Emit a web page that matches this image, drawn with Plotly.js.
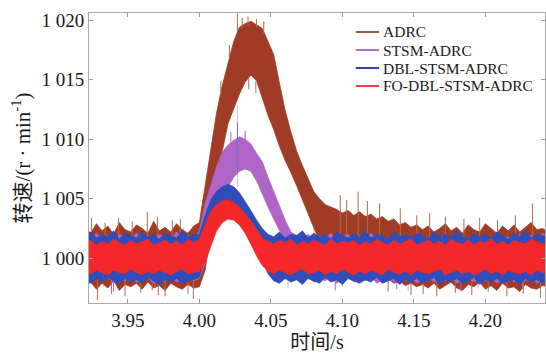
<!DOCTYPE html>
<html>
<head>
<meta charset="utf-8">
<script src="https://cdn.plot.ly/plotly-3.0.1.min.js"></script>
<style>html,body{margin:0;padding:0;background:#fff;}#chart{width:546px;height:355px;}</style>
</head>
<body>
<div id="chart"></div>
<script>
// time grid (s)
const t = [3.920,3.924,3.928,3.932,3.936,3.940,3.944,3.948,3.952,3.956,3.960,3.964,3.968,3.972,3.976,3.980,3.984,3.988,3.992,3.996,
4.000,4.004,4.008,4.012,4.016,4.020,4.024,4.028,4.032,4.036,4.040,4.044,4.048,4.052,4.056,4.060,4.064,4.068,4.072,4.076,
4.080,4.084,4.088,4.092,4.096,4.100,4.104,4.108,4.112,4.116,4.120,4.124,4.128,4.132,4.136,4.140,4.144,4.148,4.152,4.156,
4.160,4.164,4.168,4.172,4.176,4.180,4.184,4.188,4.192,4.196,4.200,4.204,4.208,4.212,4.216,4.220,4.224,4.228,4.232,4.236,4.240,4.244];

// ADRC envelope (upper / lower), r/min
const adrcUpper = [1002.6,1002.1,1002.9,1002.3,1002.7,1002.0,1003.0,1002.4,1002.2,1002.8,1002.5,1002.1,1003.1,1002.3,1002.6,1002.2,1002.9,1002.4,1002.1,1002.7,
1003.0,1006.0,1009.3,1012.2,1014.5,1016.4,1018.2,1019.4,1019.7,1019.9,1019.6,1019.3,1018.2,1017.1,1014.7,1012.4,1010.6,1009.0,1007.8,1006.7,
1005.6,1005.0,1004.5,1004.3,1004.1,1003.8,1004.0,1003.6,1003.9,1003.5,1003.7,1003.3,1003.5,1003.1,1003.3,1002.8,1003.0,1002.6,1002.8,1002.4,
1002.7,1002.2,1002.5,1002.9,1002.3,1002.6,1002.1,1002.8,1002.4,1002.2,1002.9,1002.5,1002.1,1002.7,1002.3,1002.8,1002.2,1002.6,1003.0,1002.4,1002.5,1002.2];
const adrcLower = [997.6,998.0,997.4,997.9,997.5,998.1,997.3,997.8,997.6,997.9,997.4,998.0,997.5,997.7,997.3,997.9,997.6,997.4,997.8,997.5,
997.6,999.0,1002.0,1005.5,1009.0,1011.3,1012.6,1013.8,1014.8,1015.4,1014.9,1013.4,1012.0,1010.8,1009.4,1008.2,1007.2,1006.1,1005.0,1003.7,
1002.6,1001.4,1000.3,999.6,999.1,998.9,998.6,998.8,998.4,998.6,998.2,998.4,998.0,998.3,997.9,998.1,997.7,997.9,997.6,997.8,
997.5,997.9,997.4,997.7,998.0,997.5,997.3,997.8,997.6,998.0,997.4,997.7,997.3,997.9,997.5,997.6,997.2,997.8,997.5,997.4,997.7,997.6];

// STSM-ADRC envelope
const stsmUpper = [1001.9,1001.6,1002.1,1001.7,1001.9,1001.5,1002.0,1001.8,1001.6,1002.1,1001.7,1001.9,1001.5,1002.0,1001.8,1001.6,1002.2,1001.7,1001.9,1001.6,
1002.3,1004.6,1006.1,1007.7,1008.9,1009.5,1009.9,1010.2,1010.0,1009.6,1008.8,1008.1,1006.8,1005.6,1004.3,1003.2,1002.2,1001.9,1001.7,1002.0,
1001.6,1001.9,1001.7,1002.1,1001.6,1001.8,1002.0,1001.5,1001.9,1001.7,1002.1,1001.6,1001.8,1001.5,1002.0,1001.7,1001.9,1001.6,1002.1,1001.8,
1001.6,1002.0,1001.7,1001.9,1001.5,1002.1,1001.8,1001.6,1002.0,1001.7,1001.9,1001.6,1002.2,1001.7,1001.8,1001.5,1002.0,1001.7,1001.9,1001.6,1002.1,1001.8];
const stsmLower = [998.3,998.0,998.5,998.1,998.4,997.9,998.3,998.1,998.5,998.0,998.2,998.4,997.9,998.3,998.1,998.5,998.0,998.2,998.4,998.1,
998.3,999.6,1001.5,1003.3,1004.9,1006.0,1006.8,1007.3,1007.5,1007.3,1006.5,1005.4,1004.3,1003.3,1002.3,1001.4,1000.0,998.8,998.2,998.4,
998.0,998.3,998.1,998.5,997.9,998.2,998.4,998.0,998.3,998.1,998.5,997.9,998.2,998.4,998.0,998.3,998.1,998.4,997.9,998.2,
998.4,998.0,998.3,998.1,998.5,997.9,998.2,998.4,998.0,998.3,998.1,998.4,997.9,998.2,998.5,998.0,998.3,998.1,998.4,997.9,998.2,998.3];

// DBL-STSM-ADRC envelope
const dblUpper = [1001.9,1002.2,1001.7,1002.0,1001.8,1002.3,1001.6,1002.1,1001.9,1001.7,1002.2,1001.8,1002.0,1001.6,1002.1,1001.9,1001.7,1002.3,1001.8,1002.0,
1002.0,1003.6,1004.9,1005.6,1006.0,1006.2,1006.0,1005.5,1004.8,1004.0,1003.2,1002.5,1002.0,1001.8,1002.2,1001.7,1002.0,1001.9,1002.3,1001.7,
1002.1,1001.8,1002.0,1001.6,1002.2,1001.9,1001.7,1002.1,1001.8,1002.3,1001.7,1002.0,1001.9,1001.6,1002.2,1001.8,1002.0,1001.7,1002.1,1001.9,
1001.6,1002.2,1001.8,1002.0,1001.7,1002.3,1001.9,1001.6,1002.1,1001.8,1002.0,1001.7,1002.2,1001.9,1001.6,1002.1,1001.8,1002.3,1001.7,1002.0,1001.9,1001.8];
const dblLower = [998.2,997.9,998.3,998.0,998.4,998.1,997.8,998.3,998.0,998.2,997.9,998.4,998.1,997.8,998.2,998.0,998.3,997.9,998.1,998.2,
998.4,1000.0,1001.5,1002.8,1003.5,1003.8,1003.7,1003.3,1002.6,1001.7,1000.7,999.8,998.7,998.1,997.9,998.3,998.0,998.2,997.8,998.3,
998.1,997.9,998.4,998.0,998.2,997.8,998.3,998.1,997.9,998.2,998.0,998.4,997.9,998.1,998.3,997.8,998.2,998.0,998.3,997.9,
998.1,998.4,997.8,998.2,998.0,998.3,997.9,998.1,998.4,997.8,998.2,998.0,998.3,997.9,998.1,998.2,997.8,998.3,998.0,998.2,997.9,998.1];

// FO-DBL-STSM-ADRC envelope
const foUpper = [1001.3,1001.5,1001.1,1001.4,1001.2,1001.6,1001.3,1001.1,1001.5,1001.2,1001.4,1001.6,1001.1,1001.3,1001.5,1001.2,1001.4,1001.1,1001.6,1001.3,
1001.6,1002.8,1003.9,1004.5,1004.8,1004.9,1004.7,1004.3,1003.7,1003.1,1002.4,1001.7,1001.4,1001.2,1001.5,1001.3,1001.6,1001.1,1001.4,1001.2,
1001.5,1001.3,1001.1,1001.6,1001.2,1001.4,1001.3,1001.5,1001.1,1001.4,1001.2,1001.6,1001.3,1001.1,1001.5,1001.2,1001.4,1001.6,1001.1,1001.3,
1001.5,1001.2,1001.4,1001.1,1001.6,1001.3,1001.2,1001.5,1001.1,1001.4,1001.3,1001.6,1001.2,1001.4,1001.1,1001.5,1001.3,1001.2,1001.6,1001.4,1001.2,1001.3];
const foLower = [998.9,998.7,999.0,998.8,998.6,999.0,998.8,998.7,999.1,998.8,998.6,998.9,998.7,999.0,998.8,998.6,998.9,999.1,998.7,998.8,
998.9,999.7,1001.0,1002.3,1003.0,1003.3,1003.2,1002.8,1002.1,1001.2,1000.2,999.4,998.9,998.7,999.0,998.8,998.6,998.9,999.1,998.7,
998.8,999.0,998.6,998.9,998.7,999.1,998.8,998.6,998.9,998.7,999.0,998.8,998.6,999.1,998.8,998.7,998.9,998.6,999.0,998.8,
998.7,998.9,999.1,998.6,998.8,999.0,998.7,998.9,998.6,998.8,999.1,998.7,998.9,998.6,999.0,998.8,998.7,998.9,998.6,999.0,998.8,998.7];

// isolated noise spikes: time (s), start and end value (r/min)
const adrcSpikeT = [3.9245,3.9287,3.9340,3.9385,3.9434,3.9480,3.9530,3.9590,3.9636,3.9670,3.9706,3.9712,3.9760,3.9810,3.9867,3.9920,3.9958,
4.0150,4.0210,4.0266,4.0300,4.0340,4.0400,4.0450,4.0345,4.0395,
4.0985,4.1030,4.1110,4.1175,4.1260,4.1320,4.1405,4.1480,4.1520,4.1565,4.1610,4.1660,4.1720,4.1790,4.1850,4.1905,4.1960,4.2020,4.2085,4.2150,4.2210,4.2265,4.2330,4.2385];
const adrcSpikeFrom = [1000,1000,1000,1000,1000,1000,1000,1000,1000,1000,1000,1000,1000,1000,1000,1000,1000,
1013.8,1016.8,1019.0,1019.3,1019.5,1019.4,1018.9,1015.2,1014.9,
1000,1000,1000,1000,1000,1000,1000,1000,1000,1000,1000,1000,1000,1000,1000,1000,1000,1000,1000,1000,1000,1000,1000,1000];
const adrcSpikeTo = [1003.4,996.5,1003.0,997.0,1003.4,996.8,1003.1,997.1,1003.9,997.3,1003.5,996.9,996.8,1003.2,1003.3,997.0,996.6,
1014.9,1017.9,1020.6,1020.2,1020.3,1020.1,1019.9,1014.2,1013.9,
1005.3,1004.9,1005.6,1004.8,1004.6,997.2,1004.2,996.9,1003.6,997.0,1003.8,996.8,1003.5,997.1,1003.3,996.9,1003.4,997.2,1003.2,996.8,1003.6,997.0,1004.6,996.7];
const stsmSpikeT = [3.9400,3.9690,4.0220,4.0266,4.0320,4.0950,4.1380,4.1830,4.2260];
const stsmSpikeFrom = [1000,1000,1009.6,1009.9,1009.8,1000,1000,1000,1000];
const stsmSpikeTo = [997.2,997.5,1010.6,1011.4,1010.7,997.3,997.4,997.2,997.5];
const dblSpikeT = [3.9330,3.9580,3.9750,3.9890,4.0266,4.0620,4.0800,4.1000,4.1230,4.1460,4.1700,4.1950,4.2180,4.2360];
const dblSpikeFrom = [1000,1000,1000,1000,1006.0,1000,1000,1000,1000,1000,1000,1000,1000,1000];
const dblSpikeTo = [997.6,1002.7,997.4,1002.6,1012.9,997.5,1002.8,997.6,1002.5,997.3,1002.7,997.5,1002.6,997.4];

// tick labels
const yTickVals = [1000,1005,1010,1015,1020];
const yTickText = ['1 000','1 005','1 010','1 015','1 020'];
const xTickVals = [3.95,4.00,4.05,4.10,4.15,4.20];
const xTickText = ['3.95','4.00','4.05','4.10','4.15','4.20'];

const names = ['ADRC','STSM-ADRC','DBL-STSM-ADRC','FO-DBL-STSM-ADRC'];
const colors = ['#a03c26','#b064c6','#2f4cb8','#f42828'];
const legendColors = ['#b3543c','#a873cc','#3346b0','#f04040'];

function band(upper, lower, color, name) {
  const x = t.concat(t.slice().reverse());
  const y = upper.concat(lower.slice().reverse());
  return {x: x, y: y, type: 'scatter', mode: 'lines', fill: 'toself', fillcolor: color, name: name,
          line: {color: color, width: 0.8}, showlegend: false, hoverinfo: 'skip'};
}
function spikes(ts, from, to, color, w) {
  const x = [], y = [];
  for (let i = 0; i < ts.length; i++) { x.push(ts[i], ts[i], null); y.push(from[i], to[i], null); }
  return {x: x, y: y, type: 'scatter', mode: 'lines', line: {color: color, width: w},
          showlegend: false, hoverinfo: 'skip'};
}

const traces = [
  band(adrcUpper, adrcLower, colors[0], names[0]),
  spikes(adrcSpikeT, adrcSpikeFrom, adrcSpikeTo, '#b8694a', 1),
  band(stsmUpper, stsmLower, colors[1], names[1]),
  spikes(stsmSpikeT, stsmSpikeFrom, stsmSpikeTo, colors[1], 1),
  band(dblUpper, dblLower, colors[2], names[2]),
  spikes(dblSpikeT, dblSpikeFrom, dblSpikeTo, 'rgba(70,100,200,0.55)', 0.7),
  band(foUpper, foLower, colors[3], names[3])
];

// legend drawn as line shapes + text annotations (paper coordinates)
const legX0 = 0.585, legX1 = 0.636, legTextX = 0.642;
const legY = [0.9345, 0.8724, 0.8103, 0.7483];
const shapes = [], annotations = [];
const serif = 'Liberation Serif, Times New Roman, serif';
for (let k = 0; k < names.length; k++) {
  shapes.push({type: 'line', xref: 'paper', yref: 'paper', x0: legX0, x1: legX1, y0: legY[k], y1: legY[k],
               line: {color: legendColors[k], width: 2}});
  annotations.push({xref: 'paper', yref: 'paper', x: legTextX, y: legY[k], xanchor: 'left', yanchor: 'middle',
                    text: names[k], showarrow: false, borderpad: 0,
                    font: {family: serif, size: 15.5, color: '#1a1a1a'}});
}

const layout = {
  width: 546, height: 355,
  margin: {l: 89, r: 1, t: 13, b: 52},
  paper_bgcolor: '#fff', plot_bgcolor: '#fff',
  font: {family: serif, color: '#1a1a1a', size: 17},
  showlegend: false,
  shapes: shapes,
  annotations: annotations,
  xaxis: {range: [3.9228, 4.2417], tickvals: xTickVals, ticktext: xTickText,
          ticks: 'inside', ticklen: 4, tickcolor: '#999', showline: true, mirror: 'ticks',
          linecolor: '#aaa', linewidth: 1, showgrid: false, zeroline: false,
          tickfont: {family: serif, size: 19, color: '#1a1a1a'},
          title: {text: '时间/s', font: {family: 'Liberation Serif, Noto Sans CJK SC', size: 20, color: '#1a1a1a'}, standoff: 2}},
  yaxis: {range: [996.24, 1020.6], tickvals: yTickVals, ticktext: yTickText,
          ticks: 'inside', ticklen: 4, tickcolor: '#999', showline: true, mirror: 'ticks',
          linecolor: '#aaa', linewidth: 1, showgrid: false, zeroline: false,
          tickfont: {family: serif, size: 19, color: '#1a1a1a'},
          title: {text: '转速/(r · min<sup>-1</sup>)', font: {family: 'Liberation Serif, Noto Sans CJK SC', size: 21, color: '#1a1a1a'}, standoff: 5}}
};
Plotly.newPlot('chart', traces, layout, {displayModeBar: false, staticPlot: true});
</script>
</body>
</html>
